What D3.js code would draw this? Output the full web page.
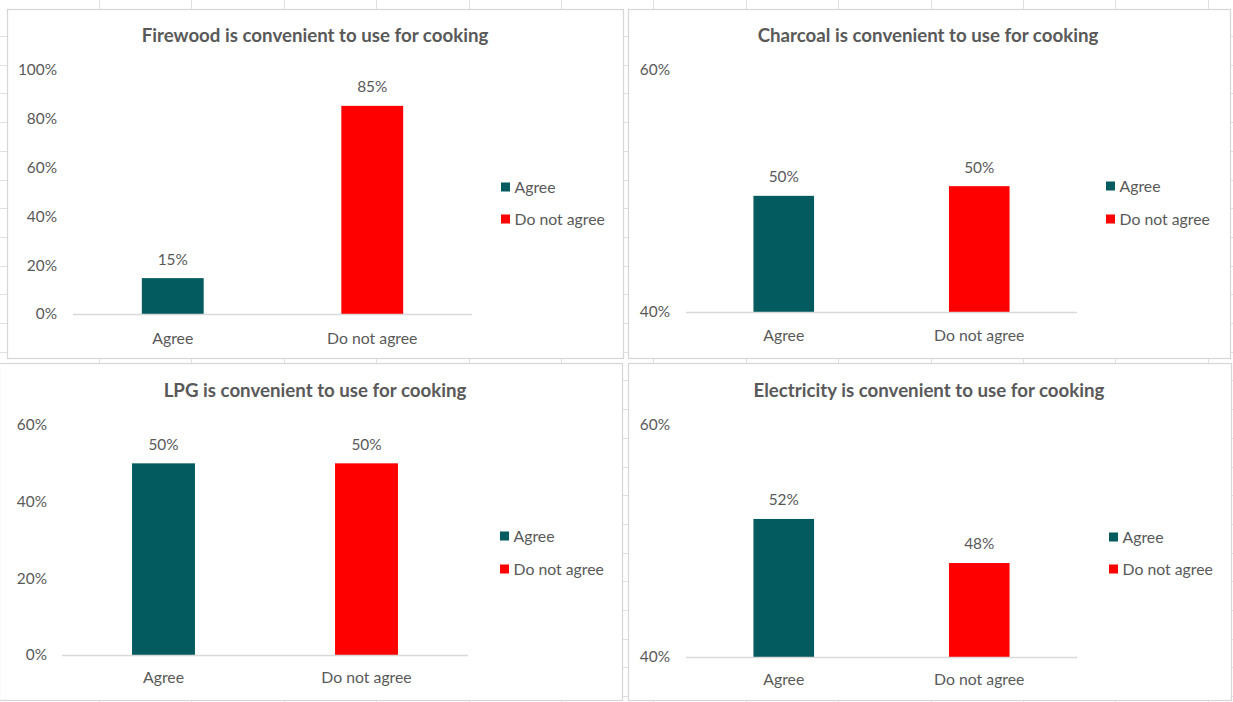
<!DOCTYPE html>
<html>
<head>
<meta charset="utf-8">
<script src="https://cdn.jsdelivr.net/npm/d3@7"></script>
<style>
  html, body { margin: 0; padding: 0; background: #ffffff; }
  svg { display: block; }
  text { font-family: Lato, "Open Sans", sans-serif; fill: #595959; }
</style>
</head>
<body>
<svg id="sheet" width="1233" height="702"></svg>
<script>
// Survey answers: share of respondents per cooking fuel
const categories = ["Agree", "Do not agree"];
const titles = [
  "Firewood is convenient to use for cooking",
  "Charcoal is convenient to use for cooking",
  "LPG is convenient to use for cooking",
  "Electricity is convenient to use for cooking"
];
const firewood = [0.147, 0.853];
const charcoal = [0.496, 0.504];
const lpg = [0.50, 0.50];
const electricity = [0.519, 0.481];
const seriesValues = [firewood, charcoal, lpg, electricity];

// Value axis range and tick labels of each chart
const axisMin = [0, 0.4, 0, 0.4];
const axisMax = [1, 0.6, 0.6, 0.6];
const tickLabels = [
  [0, 0.2, 0.4, 0.6, 0.8, 1.0],
  [0.4, 0.6],
  [0, 0.2, 0.4, 0.6],
  [0.4, 0.6]
];
const colors = ["#035b5f", "#ff0000"];

// Chart frames on the worksheet
const frames = [
  { x: 7,   y: 9,   w: 616, h: 349, px0: 73,  px1: 472,  pyTop: 70,  pyBot: 314, tickX: 57,  titleX: 315, titleY: 35,  legX: 501,  legY: [187, 219], catY: 338 },
  { x: 628, y: 9,   w: 602, h: 349, px0: 686, px1: 1077, pyTop: 70,  pyBot: 312, tickX: 670, titleX: 928, titleY: 35,  legX: 1106, legY: [186, 219], catY: 335 },
  { x: -1,  y: 363, w: 623, h: 337, px0: 62,  px1: 468,  pyTop: 425, pyBot: 655, tickX: 47,  titleX: 315, titleY: 390, legX: 500,  legY: [536, 569], catY: 677 },
  { x: 628, y: 363, w: 603, h: 337, px0: 686, px1: 1077, pyTop: 425, pyBot: 657, tickX: 670, titleX: 929, titleY: 390, legX: 1109, legY: [537, 569], catY: 679 }
];

const svg = d3.select("#sheet");
const pct = d3.format(".0%");
const labelSize = 15.8;
const numberSize = 15.4;

// Worksheet cell grid behind the charts
const grid = svg.append("g").attr("stroke", "#e0e0e0").attr("stroke-width", 1);
d3.range(99, 1233, 92.4).forEach(x => {
  grid.append("line").attr("x1", Math.round(x) + 0.5).attr("x2", Math.round(x) + 0.5).attr("y1", 0).attr("y2", 702);
});
d3.range(36, 702, 28.7).forEach(y => {
  grid.append("line").attr("x1", 0).attr("x2", 1233).attr("y1", Math.round(y) + 0.5).attr("y2", Math.round(y) + 0.5);
});

frames.forEach((f, i) => {
  const g = svg.append("g");
  const values = seriesValues[i];

  g.append("rect")
    .attr("x", f.x + 0.5).attr("y", f.y + 0.5)
    .attr("width", f.w).attr("height", f.h)
    .attr("fill", "#ffffff").attr("stroke", "#d6d6d6").attr("stroke-width", 1.2);

  g.append("text")
    .attr("x", f.titleX).attr("y", f.titleY)
    .attr("text-anchor", "middle").attr("dy", "0.35em")
    .attr("font-size", 18.7).attr("font-weight", 700)
    .text(titles[i]);

  const x = d3.scaleBand()
    .domain(categories)
    .range([f.px0, f.px1])
    .paddingInner(0.69)
    .paddingOuter(0.345);

  const y = d3.scaleLinear()
    .domain([axisMin[i], axisMax[i]])
    .range([f.pyBot, f.pyTop]);

  // Value axis: labels only
  const yAxis = d3.axisLeft(y)
    .tickValues(tickLabels[i])
    .tickFormat(pct)
    .tickSize(0)
    .tickPadding(0);
  const ya = g.append("g")
    .attr("transform", `translate(${f.tickX},0)`)
    .call(yAxis);
  ya.select(".domain").remove();
  ya.selectAll("text")
    .attr("font-size", numberSize)
    .attr("font-family", "Lato, sans-serif")
    .attr("fill", "#595959");

  // Bars
  g.selectAll("rect.bar")
    .data(values)
    .join("rect")
    .attr("class", "bar")
    .attr("x", (d, j) => x(categories[j]))
    .attr("width", x.bandwidth())
    .attr("y", d => y(d))
    .attr("height", d => y(axisMin[i]) - y(d))
    .attr("fill", (d, j) => colors[j]);

  // Category axis line and labels
  const xAxis = d3.axisBottom(x).tickSize(0).tickPadding(0);
  const xa = g.append("g")
    .attr("transform", `translate(0,${f.pyBot})`)
    .call(xAxis);
  xa.select(".domain")
    .attr("stroke", "#d9d9d9").attr("stroke-width", 1.3)
    .attr("d", `M${f.px0},0.5H${f.px1}`);
  xa.selectAll("text")
    .attr("y", f.catY - f.pyBot)
    .attr("dy", "0.35em")
    .attr("font-size", labelSize)
    .attr("font-family", "Lato, sans-serif")
    .attr("fill", "#595959");

  // Data labels above the bars
  g.selectAll("text.val")
    .data(values)
    .join("text")
    .attr("class", "val")
    .attr("x", (d, j) => x(categories[j]) + x.bandwidth() / 2)
    .attr("y", d => y(d) - 19)
    .attr("dy", "0.35em")
    .attr("text-anchor", "middle")
    .attr("font-size", numberSize)
    .text(d => pct(d));

  // Legend
  const leg = g.selectAll("g.leg")
    .data(categories)
    .join("g")
    .attr("class", "leg")
    .attr("transform", (d, j) => `translate(${f.legX},${f.legY[j]})`);
  leg.append("rect")
    .attr("x", 0).attr("y", -4.5)
    .attr("width", 9).attr("height", 9)
    .attr("fill", (d, j) => colors[j]);
  leg.append("text")
    .attr("x", 13.5).attr("dy", "0.35em")
    .attr("font-size", labelSize)
    .text(d => d);
});
</script>
</body>
</html>
